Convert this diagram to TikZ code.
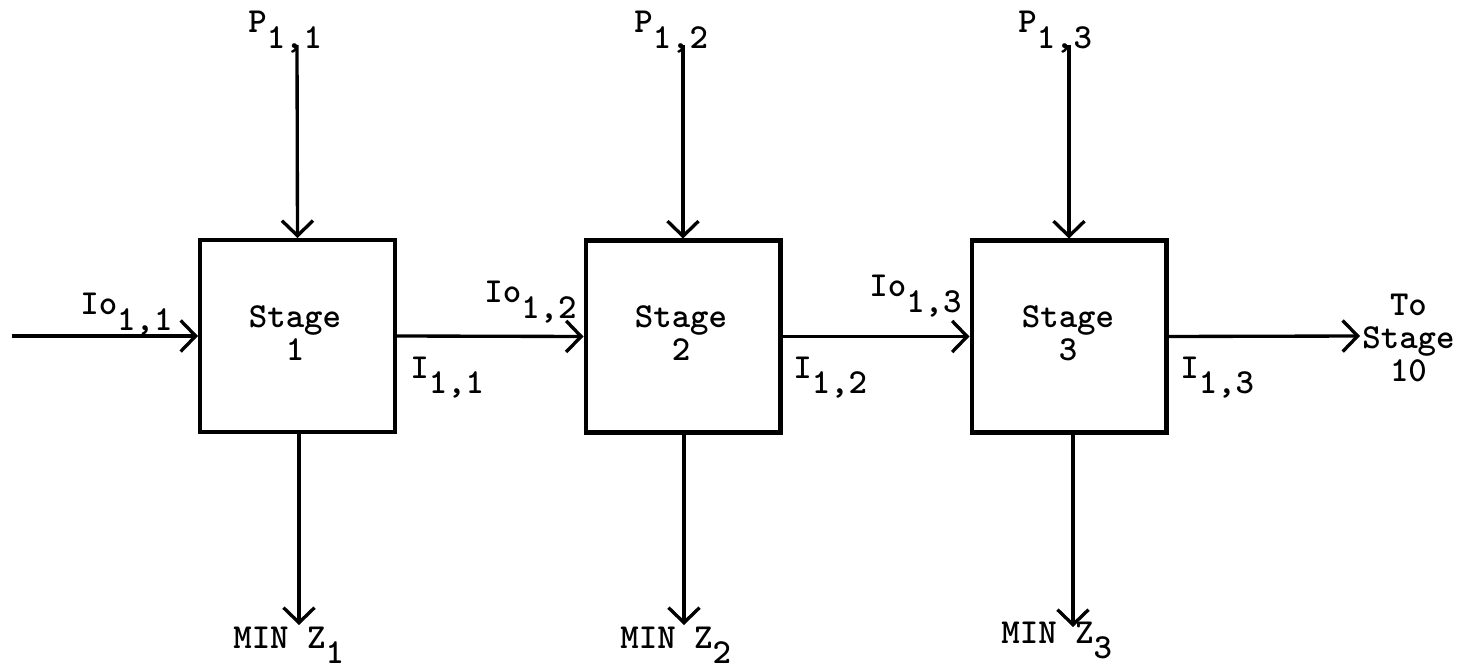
\documentclass[tikz,border=0pt]{standalone}
\usetikzlibrary{arrows.meta}
\newcommand{\lowr}[1]{\raisebox{-0.32cm}{#1}}
\tikzset{
  stagebox/.style={draw, line width=2.3pt, minimum width=3.9cm, minimum height=3.84cm, inner sep=0pt},
  flow/.style={line width=1.9pt, -{Straight Barb[length=0.3cm, width=0.62cm]}},
  lbl/.style={inner sep=0pt, anchor=base west, font=\ttfamily\bfseries\fontsize{20pt}{20pt}\selectfont},
  stagetxt/.style={inner sep=0pt, align=center, font=\ttfamily\bfseries\fontsize{20pt}{19pt}\selectfont},
}
\begin{document}
\begin{tikzpicture}[x=0.02cm, y=-0.02cm]
\useasboundingbox (0,0) rectangle (1475,672);
% boxes
\node[stagebox] (s1) at (297.5,336) {};
\node[stagebox] (s2) at (683,336.5) {};
\node[stagebox] (s3) at (1069,336.5) {};
\node[stagetxt] (t1) at (295,333) {Stage\\1};
\node[stagetxt] (t2) at (681,333) {Stage\\2};
\node[stagetxt] (t3) at (1068,333) {Stage\\3};
% end coordinates
\coordinate (in) at (12,336);
\coordinate (out) at (1360,336);
\coordinate (p1) at (297,45);
\coordinate (p2) at (683,45);
\coordinate (p3) at (1069,45);
\coordinate (z1) at (299,625);
\coordinate (z2) at (684,625);
\coordinate (z3) at (1073,627);
% horizontal flows
\draw[flow] (in) -- (s1.west);
\draw[flow] (s1.east) -- (s2.west);
\draw[flow] (s2.east) -- (s3.west);
\draw[flow] (s3.east) -- (out);
% vertical flows
\draw[flow] (p1) -- (s1.north);
\draw[flow] (p2) -- (s2.north);
\draw[flow] (p3) -- (s3.north);
\draw[flow] (s1.south -| z1) -- (z1);
\draw[flow] (s2.south -| z2) -- (z2);
\draw[flow] (s3.south -| z3) -- (z3);
% labels
\node[lbl] (lp1) at (248,33) {P\lowr{1,1}};
\node[lbl] (lp2) at (634,33) {P\lowr{1,2}};
\node[lbl] (lp3) at (1018,33) {P\lowr{1,3}};
\node[lbl] (li1) at (80,315) {Io\lowr{1,1}};
\node[lbl] (li2) at (484,303) {Io\lowr{1,2}};
\node[lbl] (li3) at (869,297) {Io\lowr{1,3}};
\node[lbl] (lo1) at (410,378) {I\lowr{1,1}};
\node[lbl] (lo2) at (793,378) {I\lowr{1,2}};
\node[lbl] (lo3) at (1180,378) {I\lowr{1,3}};
\node[lbl] (lz1) at (233,648) {MIN Z\lowr{1}};
\node[lbl] (lz2) at (620,648) {MIN Z\lowr{2}};
\node[lbl] (lz3) at (1001,643) {MIN Z\lowr{3}};
\node[stagetxt, anchor=west] (ts) at (1362,338) {To\\Stage\\10};
\end{tikzpicture}
\end{document}
